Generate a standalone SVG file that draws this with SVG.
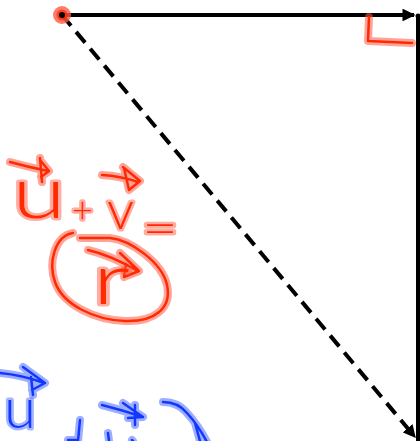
<svg xmlns="http://www.w3.org/2000/svg" xmlns:xlink="http://www.w3.org/1999/xlink" width="420" height="441" viewBox="0 0 420 441">
<style>
.vec{fill:none;stroke:#000;stroke-width:4;stroke-linecap:butt}
.dash{stroke-dasharray:14 8}
.haloR{fill:none;stroke:#ff5a45;stroke-opacity:.55;stroke-width:8;stroke-linecap:round;stroke-linejoin:round}
.coreR{fill:none;stroke:#ff2a00;stroke-width:2.5;stroke-linecap:round;stroke-linejoin:round}
.haloB{fill:none;stroke:#4d6bff;stroke-opacity:.55;stroke-width:8;stroke-linecap:round;stroke-linejoin:round}
.coreB{fill:none;stroke:#1238ff;stroke-width:2.5;stroke-linecap:round;stroke-linejoin:round}
.tR{font-family:Lato,"Open Sans","Liberation Sans",sans-serif;font-weight:300;fill:#ff2a00;stroke:#ff5a45;stroke-opacity:.5;stroke-width:5;paint-order:stroke;stroke-linejoin:round}
.tB{font-family:Lato,"Open Sans","Liberation Sans",sans-serif;font-weight:300;fill:#1238ff;stroke:#4d6bff;stroke-opacity:.5;stroke-width:5;paint-order:stroke;stroke-linejoin:round}
</style>
<defs>
<marker id="ah" viewBox="0 0 10 10" refX="9" refY="5" markerWidth="3.2" markerHeight="3.2" orient="auto" markerUnits="strokeWidth">
<path d="M0,0 L10,5 L0,10 z" fill="#000"/>
</marker>
<g id="redInk">
<path d="M10,162 Q28,167 48,171 M40,158 L42,182 M40,160 L49,171 L41,177"/>
<path d="M102,175 Q120,176 138,182 M123,167 L140,181 L129,190 L124,168"/>
<path d="M73,233 C55,236 48,262 55,282 C63,305 95,320 125,321 C155,322 172,308 167,285 C162,262 130,240 110,238 L80,238"/>
<path d="M88,250 Q110,255 138,271 M120,253 L139,271 L124,277 L126,264"/>
<path d="M369,17 L368,41 L412,43"/>
</g>
<g id="blueInk">
<path d="M0,373 Q22,375 44,383 M23,367 L45,383 L32,390 M31,377 L33,395"/>
<path d="M102,405 Q122,410 143,417 M123,403 L143,417 L128,418 M135,405 L135,425"/>
<path d="M80,420 L78,441 M68,440 L78,440 M108,433 L109,441 M132,440 L133,441"/>
<path d="M163,402 Q178,402 187,413 Q198,425 207,442 M195,423 L200,441"/>
</g>
</defs>

<g id="connectors">
<line id="vector-u" class="vec" x1="62" y1="15" x2="414" y2="15" marker-end="url(#ah)"/>
<line id="vector-v" class="vec" x1="418" y1="15" x2="418" y2="445"/>
<circle cx="418" cy="16" r="2.5" fill="#000"/>
<line id="vector-sum" class="vec dash" x1="62" y1="15" x2="415" y2="437" marker-end="url(#ah)"/>
</g>

<g id="start-point">
<circle cx="62" cy="15" r="9" fill="#ff5a45" fill-opacity=".8"/>
<circle cx="62" cy="15" r="5.5" fill="#ff2a00" fill-opacity=".7"/>
<circle cx="62" cy="15" r="3" fill="#000"/>
</g>

<g id="red-notes">
<use xlink:href="#redInk" class="haloR"/>
<use xlink:href="#redInk" class="coreR"/>
<text class="tR" x="12" y="218" font-size="72" textLength="54" lengthAdjust="spacingAndGlyphs">u</text>
<text class="tR" x="72" y="223" font-size="36">+</text>
<text class="tR" x="107" y="229" font-size="54">v</text>
<text class="tR" x="142" y="244" font-size="46" textLength="36" lengthAdjust="spacingAndGlyphs">=</text>
<text class="tR" x="92" y="304" font-size="70" textLength="38" lengthAdjust="spacingAndGlyphs">r</text>
</g>

<g id="blue-notes">
<use xlink:href="#blueInk" class="haloB"/>
<use xlink:href="#blueInk" class="coreB"/>
<text class="tB" x="4" y="428" font-size="56" textLength="32" lengthAdjust="spacingAndGlyphs">u</text>
</g>
</svg>
